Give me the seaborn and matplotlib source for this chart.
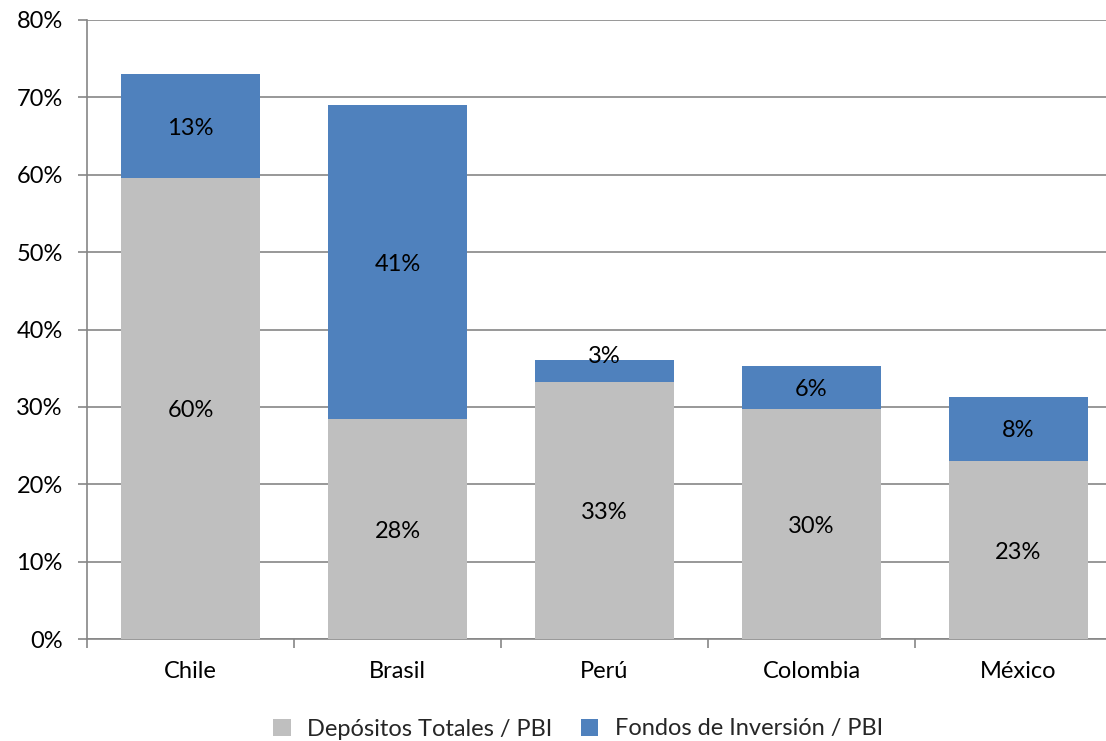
import matplotlib
matplotlib.use("Agg")
import matplotlib.pyplot as plt
from matplotlib.patches import Patch
from matplotlib.ticker import FixedLocator, PercentFormatter
import pandas as pd
import seaborn as sns

paises = ["Chile", "Brasil", "Perú", "Colombia", "México"]
depositos = [59.6, 28.4, 33.2, 29.7, 23.0]
fondos = [13.4, 40.6, 2.8, 5.6, 8.3]
y_ticks = [0, 10, 20, 30, 40, 50, 60, 70, 80]
series = ["Depósitos Totales / PBI", "Fondos de Inversión / PBI"]

GRIS = "#BFBFBF"
AZUL = "#4F81BD"
LINEA = "#868686"

sns.set_theme(style="white")
plt.rcParams["font.family"] = ["Lato", "DejaVu Sans"]
FS = 17

df = pd.DataFrame({"pais": paises, "depositos": depositos, "fondos": fondos})
df["total"] = df["depositos"] + df["fondos"]

fig = plt.figure(figsize=(11.06, 7.41), dpi=100)
ax = fig.add_axes([87 / 1106, 1 - 639 / 741, (1122 - 87) / 1106, (639 - 20) / 741])

# stacked bars: draw the total in blue, then the deposits in gray on top
sns.barplot(data=df, x="pais", y="total", color=AZUL, saturation=1, width=0.667, ax=ax,
            edgecolor="none", linewidth=0, zorder=2)
sns.barplot(data=df, x="pais", y="depositos", color=GRIS, saturation=1, width=0.667, ax=ax,
            edgecolor="none", linewidth=0, zorder=3)

for i, (d, f) in enumerate(zip(depositos, fondos)):
    ax.text(i, d / 2, f"{d:.0f}%", ha="center", va="center_baseline", fontsize=FS,
            color="black", zorder=5)
    # thin segments get their label nudged up over the bar top
    yb = d + f / 2 if f >= 4 else d + f + 0.8
    ax.text(i, yb, f"{f:.0f}%", ha="center", va="center_baseline", fontsize=FS,
            color="black", zorder=5)

ax.set_xlim(-0.5, len(paises) - 0.5)
ax.set_ylim(0, 80)
ax.yaxis.set_major_locator(FixedLocator(y_ticks))
ax.yaxis.set_major_formatter(PercentFormatter(decimals=0))
ax.yaxis.grid(True, color=LINEA, linewidth=1.2, zorder=0)
ax.set_axisbelow(True)

# category boundaries as major ticks, names on minor ticks
ax.set_xticks([i - 0.5 for i in range(len(paises) + 1)])
ax.set_xticklabels([])
ax.set_xticks(range(len(paises)), minor=True)
ax.set_xticklabels(paises, minor=True)
ax.tick_params(axis="x", which="major", length=6.5, width=1.2, color=LINEA, direction="out", bottom=True)
ax.tick_params(axis="x", which="minor", length=0, pad=16, labelsize=FS, labelcolor="black")
ax.tick_params(axis="y", length=6.5, width=1.2, color=LINEA, direction="out", left=True,
               pad=11, labelsize=FS, labelcolor="black")
ax.set_xlabel("")
ax.set_ylabel("")

for s in ["top", "right"]:
    ax.spines[s].set_visible(False)
for s in ["left", "bottom"]:
    ax.spines[s].set_color(LINEA)
    ax.spines[s].set_linewidth(1.2)

handles = [Patch(facecolor=GRIS, edgecolor="none", label=series[0]),
           Patch(facecolor=AZUL, edgecolor="none", label=series[1])]
fig.legend(handles=handles, loc="center", bbox_to_anchor=(578 / 1106, 1 - 729 / 741), ncol=2,
           frameon=False, fontsize=FS, handlelength=0.75, handleheight=0.75, handletextpad=0.7,
           columnspacing=1.2, borderaxespad=0)

fig.savefig("out.png", dpi=100)
